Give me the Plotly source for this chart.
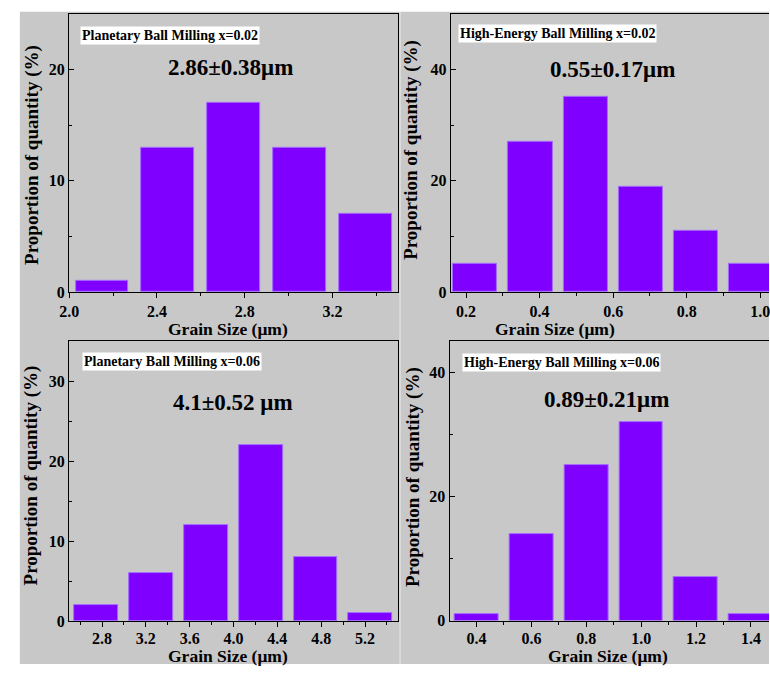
import plotly.graph_objects as go

# ---------------- data ----------------
p1_x = [2.15, 2.45, 2.75, 3.05, 3.35]
p1_y = [1, 13, 17, 13, 7]
p2_x = [0.225, 0.375, 0.525, 0.675, 0.825, 0.975]
p2_y = [5, 27, 35, 19, 11, 5]
p3_x = [2.75, 3.25, 3.75, 4.25, 4.75, 5.25]
p3_y = [2, 6, 12, 22, 8, 1]
p4_x = [0.4, 0.6, 0.8, 1.0, 1.2, 1.4]
p4_y = [1, 14, 25, 32, 7, 1]

labels = ["Planetary Ball Milling x=0.02", "High-Energy Ball Milling x=0.02",
          "Planetary Ball Milling x=0.06", "High-Energy Ball Milling x=0.06"]
sizes = ["2.86±0.38μm", "0.55±0.17μm", "4.1±0.52 μm", "0.89±0.21μm"]
xtitle = "Grain Size (μm)"
ytitle = "Proportion of quantity (%)"

W, H = 770, 673
BG = "#c8c8c8"
BAR = "#8000ff"
FONT = "Liberation Serif"

def px(x):
    return x / W

def py(y):
    return (H - y) / H

fig = go.Figure()
series = [(p1_x, p1_y, 0.24), (p2_x, p2_y, 0.12), (p3_x, p3_y, 0.4), (p4_x, p4_y, 0.16)]
for i, (xs, ys, w) in enumerate(series):
    sfx = "" if i == 0 else str(i + 1)
    fig.add_trace(go.Bar(x=xs, y=ys, width=w, xaxis="x" + sfx, yaxis="y" + sfx,
                         marker=dict(color=BAR, line=dict(color="#a46cff", width=1)),
                         showlegend=False))

# panel pixel boxes: (left, right, top, bottom)
boxes = [(60, 394, 14, 296), (447.3, 770, 14, 296),
         (60, 393.5, 345.7, 629.5), (446, 770, 345.7, 629)]
xranges = [[2.0, 3.5], [0.1587, 1.0239], [2.5, 5.5], [0.302, 1.466]]
yranges = [[0, 25], [0, 50], [0, 35], [0, 45]]
xt = [(2.0, 0.4, 0.2), (0.2, 0.2, 0.1), (2.8, 0.4, 0.2), (0.4, 0.2, 0.1)]
yt = [(10, 5), (20, 10), (10, 5), (20, 10)]
xstandoff = [0, 0, -2, -2]

tickfont = dict(family=FONT, size=16, color="black", weight="bold")
layout = {}
for i in range(4):
    sfx = "" if i == 0 else str(i + 1)
    l, r, t, b = boxes[i]
    right_panel = i in (1, 3)
    t0, dt, mdt = xt[i]
    layout["xaxis" + sfx] = dict(
        domain=[px(l), px(r)], range=xranges[i], anchor="y" + sfx,
        showline=True, linecolor="black", linewidth=1.3, mirror=True,
        ticks="outside", ticklen=5, tickwidth=1.3, tickcolor="black",
        tickmode="linear", tick0=t0, dtick=dt, tickformat=".1f",
        minor=dict(ticks="outside", ticklen=3, tickwidth=1.3, tickcolor="black",
                   tick0=t0, dtick=mdt, showgrid=False),
        showgrid=False, zeroline=False, tickfont=tickfont,
        ticklabelstandoff=xstandoff[i],
        ticklabeloverflow="allow", fixedrange=True)
    ydt, ymdt = yt[i]
    layout["yaxis" + sfx] = dict(
        domain=[py(b), py(t)], range=yranges[i], anchor="x" + sfx,
        showline=True, linecolor="black", linewidth=1.3, mirror=not right_panel,
        ticks="inside", ticklen=5, tickwidth=1.3, tickcolor="black",
        tickmode="linear", tick0=0, dtick=ydt,
        minor=dict(ticks="inside", ticklen=3, tickwidth=1.3, tickcolor="black",
                   tick0=0, dtick=ymdt, showgrid=False),
        showgrid=False, zeroline=False, tickfont=tickfont, fixedrange=True)

annotations = []
label_pos = [(71, 26), (454, 24.3), (72.7, 356.7), (458.3, 357.7)]
size_pos = [(223.7, 68.3), (611.5, 70.7), (225.8, 408.3), (604.7, 405)]
ytitle_pos = [(22.3, 157), (406.7, 152), (21.7, 481.5), (408.3, 483)]
xtitle_pos = [(221, 333), (553, 333), (221.5, 664.5), (606.7, 664.5)]
for i in range(4):
    annotations.append(dict(text=labels[i], x=px(label_pos[i][0]), y=py(label_pos[i][1]),
                            xref="paper", yref="paper", xanchor="left", yanchor="top",
                            showarrow=False, bgcolor="white", borderpad=1,
                            font=dict(family=FONT, size=14, color="black", weight="bold")))
    annotations.append(dict(text=sizes[i], x=px(size_pos[i][0]), y=py(size_pos[i][1]),
                            xref="paper", yref="paper", xanchor="center", yanchor="middle",
                            showarrow=False,
                            font=dict(family=FONT, size=23, color="black", weight="bold")))
    annotations.append(dict(text=ytitle, x=px(ytitle_pos[i][0]), y=py(ytitle_pos[i][1]),
                            xref="paper", yref="paper", xanchor="center", yanchor="middle",
                            textangle=-90, showarrow=False,
                            font=dict(family=FONT, size=19, color="black", weight="bold")))
    annotations.append(dict(text=xtitle, x=px(xtitle_pos[i][0]), y=py(xtitle_pos[i][1]),
                            xref="paper", yref="paper", xanchor="center", yanchor="middle",
                            showarrow=False,
                            font=dict(family=FONT, size=17.5, color="black", weight="bold")))

shapes = [
    dict(type="rect", xref="paper", yref="paper", x0=px(10), x1=1, y0=0, y1=py(12),
         fillcolor=BG, line=dict(width=0), layer="below"),
    dict(type="line", xref="paper", yref="paper", x0=px(395.7), x1=px(395.7),
         y0=0, y1=py(12), line=dict(color="#ececec", width=1), layer="below"),
]

fig.update_layout(width=W, height=H, margin=dict(l=0, r=0, t=0, b=0),
                  paper_bgcolor="white", plot_bgcolor=BG, bargap=0,
                  annotations=annotations, shapes=shapes, **layout)
fig.write_html("out.html", config={"displayModeBar": False},
               post_script="document.body.style.margin='0';document.body.style.overflow='hidden';")
